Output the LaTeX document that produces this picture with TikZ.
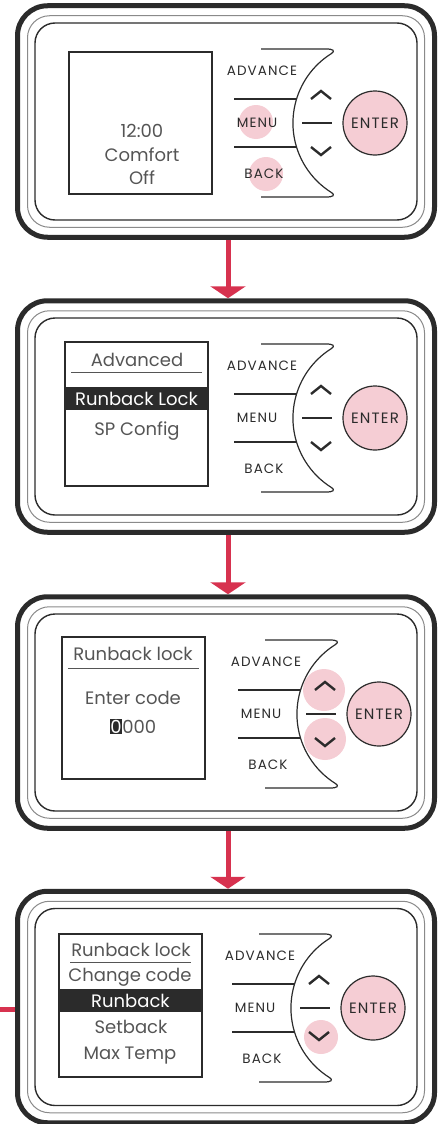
\documentclass[tikz,border=0pt]{standalone}
\usepackage{fontspec}
\setmainfont{Poppins}
\newfontfamily\keyfont[LetterSpace=8]{Poppins}
\usepackage{tikz}
\usetikzlibrary{arrows.meta}

\definecolor{ink}{HTML}{2B2B2B}
\definecolor{rimgray}{HTML}{8A8A8A}
\definecolor{lcdtext}{HTML}{555555}
\definecolor{presspink}{HTML}{F5CDD4}
\definecolor{flowred}{HTML}{D7324F}

\begin{document}
\begin{tikzpicture}[
		x=1pt, y=-1pt,
		casing/.style={
			rectangle,
			rounded corners=30pt,
			draw=ink,
			line width=5pt,
			minimum width=417pt,
			minimum height=231.5pt
		},
		rim/.style={
			rectangle,
			rounded corners=22pt,
			draw=rimgray,
			line width=1pt,
			minimum width=397pt,
			minimum height=211.5pt
		},
		bezel/.style={
			rectangle,
			rounded corners=20pt,
			draw=ink,
			line width=1.4pt,
			minimum width=382pt,
			minimum height=197pt
		},
		screen/.style={
			rectangle,
			draw=ink,
			line width=1.3pt,
			minimum width=143pt,
			minimum height=142pt
		},
		lcd/.style={
			text=lcdtext,
			inner sep=0pt,
			text height=13pt,
			text depth=0pt,
			font=\fontsize{18pt}{20pt}\selectfont
		},
		selbar/.style={
			rectangle,
			fill=ink,
			minimum width=143pt,
			minimum height=23pt
		},
		btn/.style={
			text=ink,
			inner sep=0pt,
			font=\keyfont\fontsize{13.5pt}{15pt}\selectfont
		},
		enterkey/.style={
			circle,
			draw=ink,
			line width=1.2pt,
			fill=presspink,
			minimum size=64pt,
			inner sep=0pt,
			text=ink,
			font=\keyfont\fontsize{15pt}{17pt}\selectfont
		},
		press/.style={
			circle,
			fill=presspink,
			minimum size=34pt,
			inner sep=0pt
		},
		trim/.style={
			draw=ink,
			line width=1.2pt
		},
		chev/.style={
			draw=ink,
			line width=2.4pt,
			line join=miter
		},
		flow/.style={
			draw=flowred,
			line width=5pt,
			-{Triangle[width=35pt,length=12pt]}
		}
	]

	\useasboundingbox (0,0) rectangle (446,1124);

	% pressed keys
	\node[press] (press1m) at (256,122) {};
	\node[press] (press1b) at (266,174) {};
	\node[press, minimum size=42pt] (press3u) at (324,690) {};
	\node[press, minimum size=42pt] (press3d) at (325,739) {};
	\node[press] (press4d) at (321,1037) {};

	% the four devices
	\foreach \n/\fy/\ex/\ey in {1/121.5/375/123, 2/416.5/375/418, 3/712.5/379/714, 4/1007/373/1008} {
		\node[casing] (dev\n) at (226,\fy) {};
		\node[rim] (rim\n) at (dev\n) {};
		\node[bezel] (bezel\n) at (dev\n) {};
		\node[enterkey] (enter\n) at (\ex,\ey) {ENTER};

		\draw[trim] (\ex-114,\ey-74) -- (\ex-49,\ey-74)
			.. controls (\ex-41,\ey-74) and (\ex-40,\ey-72) .. (\ex-43.5,\ey-69.5)
			arc[start angle=238, end angle=122, radius=82]
			.. controls (\ex-40,\ey+72) and (\ex-41,\ey+74) .. (\ex-49,\ey+74)
			-- (\ex-114,\ey+74);
		\draw[trim] (\ex-141,\ey-24) -- (\ex-78.4,\ey-24);
		\draw[trim] (\ex-141,\ey+24) -- (\ex-78.4,\ey+24);
		\draw[trim] (\ex-73,\ey) -- (\ex-43,\ey);

		\draw[chev] (\ex-64,\ey-24) -- (\ex-54,\ey-32) -- (\ex-44,\ey-24);
		\draw[chev] (\ex-64,\ey+24) -- (\ex-54,\ey+32) -- (\ex-44,\ey+24);

		\node[btn] (adv\n) at (\ex-113,\ey-52) {ADVANCE};
		\node[btn] (menu\n) at (\ex-118,\ey) {MENU};
		\node[btn] (back\n) at (\ex-111,\ey+51) {BACK};
	}

	% screen 1
	\node[screen] (scr1) at (140.5,123) {};
	\node[lcd] (clock) at (142,131) {12:00};
	\node[lcd] (mode) at (142,155) {Comfort};
	\node[lcd] (state) at (142,178) {Off};

	% screen 2
	\node[screen, minimum height=144pt] (scr2) at (136.5,414) {};
	\node[lcd] (adv) at (137,359.5) {Advanced};
	\draw[draw=lcdtext, line width=1pt] (71,372) -- (202,372);
	\node[selbar] (bar2) at (136.5,398.5) {};
	\node[lcd, text=white] (lockitem) at (bar2) {Runback Lock};
	\node[lcd] (spcfg) at (137,429) {SP Config};

	% screen 3
	\node[screen] (scr3) at (133.5,708) {};
	\node[lcd] (title3) at (133,653.5) {Runback lock};
	\draw[draw=lcdtext, line width=1pt] (68,668) -- (199,668);
	\node[lcd] (prompt) at (133,697.5) {Enter code};
	\node[lcd] (code) at (133,726.5) {\setlength{\fboxsep}{0.6pt}\colorbox{ink}{\textcolor{white}{0}}000};

	% screen 4
	\node[screen, minimum height=143pt] (scr4) at (130.5,1005.5) {};
	\node[lcd] (title4) at (131,949.5) {Runback lock};
	\draw[draw=lcdtext, line width=1pt] (70,962) -- (191,962);
	\node[lcd] (chcode) at (130,975) {Change code};
	\node[selbar] (bar4) at (130.5,1000.5) {};
	\node[lcd, text=white] (runback) at (bar4) {Runback};
	\node[lcd] (setback) at (131,1026.5) {Setback};
	\node[lcd] (maxtemp) at (130,1052.5) {Max Temp};

	% flow between steps
	\draw[flow] ([xshift=2pt]dev1.south) -- ([xshift=2pt]dev2.north);
	\draw[flow] ([xshift=2pt]dev2.south) -- ([xshift=2pt]dev3.north);
	\draw[flow] ([xshift=2pt]dev3.south) -- ([xshift=2pt]dev4.north);
	\coordinate (lead) at (0,1009.5);
	\draw[draw=flowred, line width=5pt] (lead) -- (lead -| dev4.west);

\end{tikzpicture}
\end{document}
